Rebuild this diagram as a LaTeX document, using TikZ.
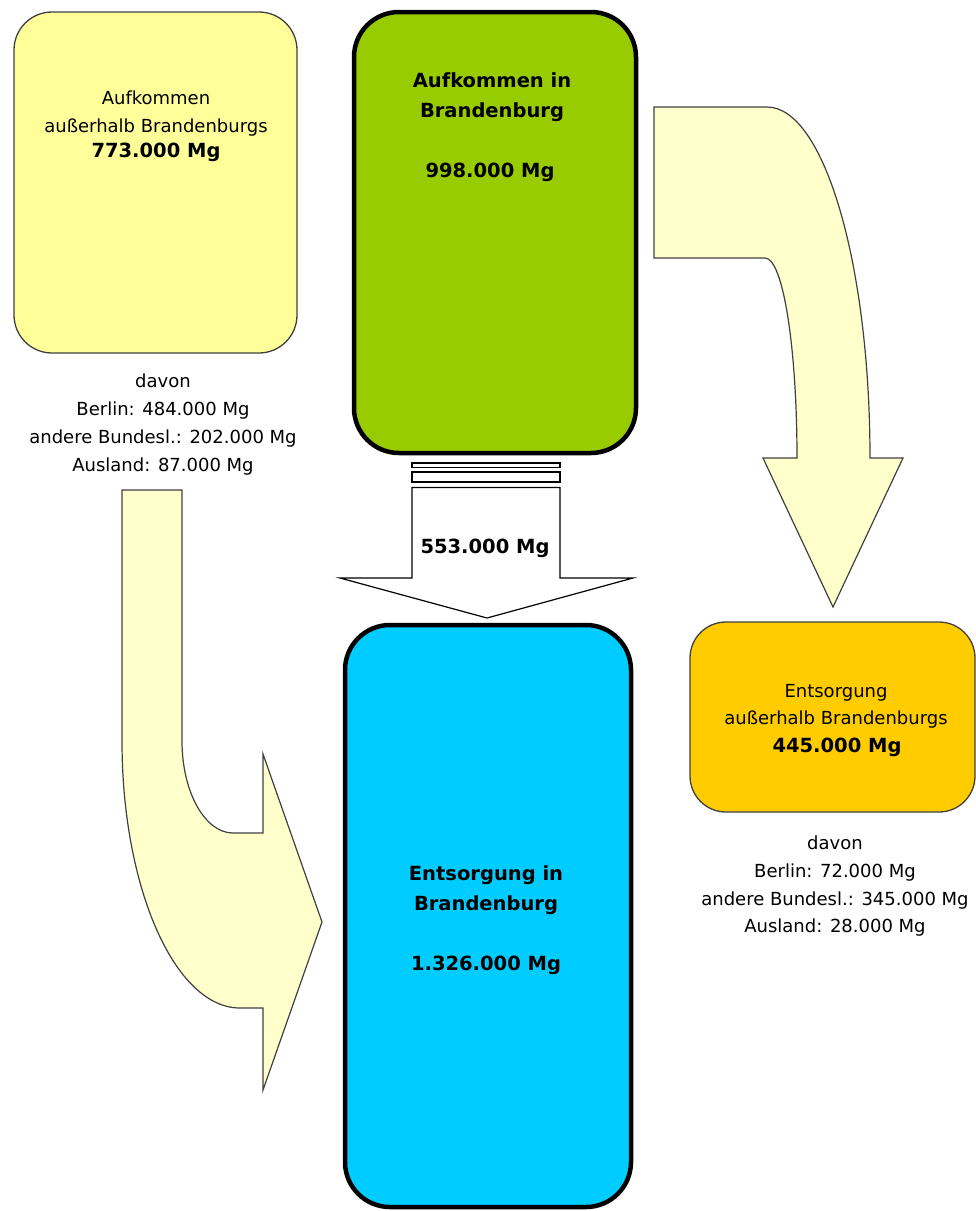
\documentclass[tikz,border=0pt]{standalone}
\usepackage{fontspec}
\setmainfont{DejaVu Sans}
\definecolor{boxyellow}{HTML}{FFFF99}
\definecolor{boxorange}{HTML}{FFCC00}
\definecolor{boxgreen}{HTML}{99CC00}
\definecolor{boxblue}{HTML}{00CCFF}
\definecolor{arrowfill}{HTML}{FFFFCC}
\definecolor{boxedge}{HTML}{404040}
\begin{document}
\begin{tikzpicture}[x=1pt,y=-1pt,
  regtext/.style={font=\fontsize{18}{22}\selectfont, anchor=base, inner sep=0pt},
  boldtext/.style={font=\fontsize{19.5}{24}\selectfont\bfseries, anchor=base, inner sep=0pt},
  thinbox/.style={draw=boxedge, line width=1.3pt, inner sep=0pt, outer sep=0pt, anchor=north west},
  thickbox/.style={draw=black, line width=4.5pt, inner sep=0pt, outer sep=0pt, anchor=north west},
  bigarrow/.style={fill=arrowfill, draw=boxedge, line width=1.2pt, line join=miter},
  whitearrow/.style={fill=white, draw=black, line width=1.2pt, line join=miter},
]
\useasboundingbox (0,0) rectangle (976,1211);

% boxes
\node[thinbox, fill=boxyellow, rounded corners=38pt, minimum width=283pt, minimum height=341pt] (src) at (14,12) {};
\node[thickbox, fill=boxgreen, rounded corners=45pt, minimum width=282pt, minimum height=441pt] (green) at (354,12) {};
\node[thickbox, fill=boxblue, rounded corners=45pt, minimum width=286pt, minimum height=582pt] (blue) at (345,625) {};
\node[thinbox, fill=boxorange, rounded corners=36pt, minimum width=285pt, minimum height=190pt] (orange) at (690,622) {};

% right curved arrow
\draw[bigarrow] (654,107) -- (767,107) .. controls (824,107) and (870,264) .. (870,458)
  -- (903,458) -- (833,607) -- (763,458) -- (797,458)
  .. controls (797,347) and (783,258) .. (765,258) -- (654,258) -- cycle;

% left curved arrow
\draw[bigarrow] (122,490) -- (182,490) -- (182,741)
  .. controls (182,792) and (205,833) .. (233,833) -- (263,833) -- (263,754)
  -- (322,922) -- (263,1090) -- (263,1008) -- (240,1008)
  .. controls (175,1008) and (122,888) .. (122,741) -- cycle;

% middle arrow
\draw[whitearrow] (412,463) rectangle (560,467.5);
\draw[whitearrow] (412,472) rectangle (560,482);
\draw[whitearrow] (412,487.5) -- (560,487.5) -- (560,578) -- (633,578) -- (487,618)
  -- (340,578) -- (412,578) -- cycle;
\node[boldtext] (mid) at (485,553) {553.000 Mg};

% texts left box
\node[regtext] (s1) at (156,104) {Aufkommen};
\node[regtext] (s2) at (156,132) {außerhalb Brandenburgs};
\node[boldtext] (s3) at (156,157) {773.000 Mg};
\node[regtext] (d1) at (163,387) {davon};
\node[regtext] (d2) at (163,415) {Berlin: 484.000 Mg};
\node[regtext] (d3) at (163,443) {andere Bundesl.: 202.000 Mg};
\node[regtext] (d4) at (163,471) {Ausland: 87.000 Mg};

% green box texts
\node[boldtext] (g1) at (492,87) {Aufkommen in};
\node[boldtext] (g2) at (492,117) {Brandenburg};
\node[boldtext] (g3) at (490,177) {998.000 Mg};

% blue box texts
\node[boldtext] (b1) at (486,880) {Entsorgung in};
\node[boldtext] (b2) at (486,910) {Brandenburg};
\node[boldtext] (b3) at (486,970) {1.326.000 Mg};

% orange box texts
\node[regtext] (o1) at (836,697) {Entsorgung};
\node[regtext] (o2) at (836,724) {außerhalb Brandenburgs};
\node[boldtext] (o3) at (837,752) {445.000 Mg};
\node[regtext] (e1) at (835,849) {davon};
\node[regtext] (e2) at (835,877) {Berlin: 72.000 Mg};
\node[regtext] (e3) at (835,905) {andere Bundesl.: 345.000 Mg};
\node[regtext] (e4) at (835,932) {Ausland: 28.000 Mg};
\end{tikzpicture}
\end{document}
